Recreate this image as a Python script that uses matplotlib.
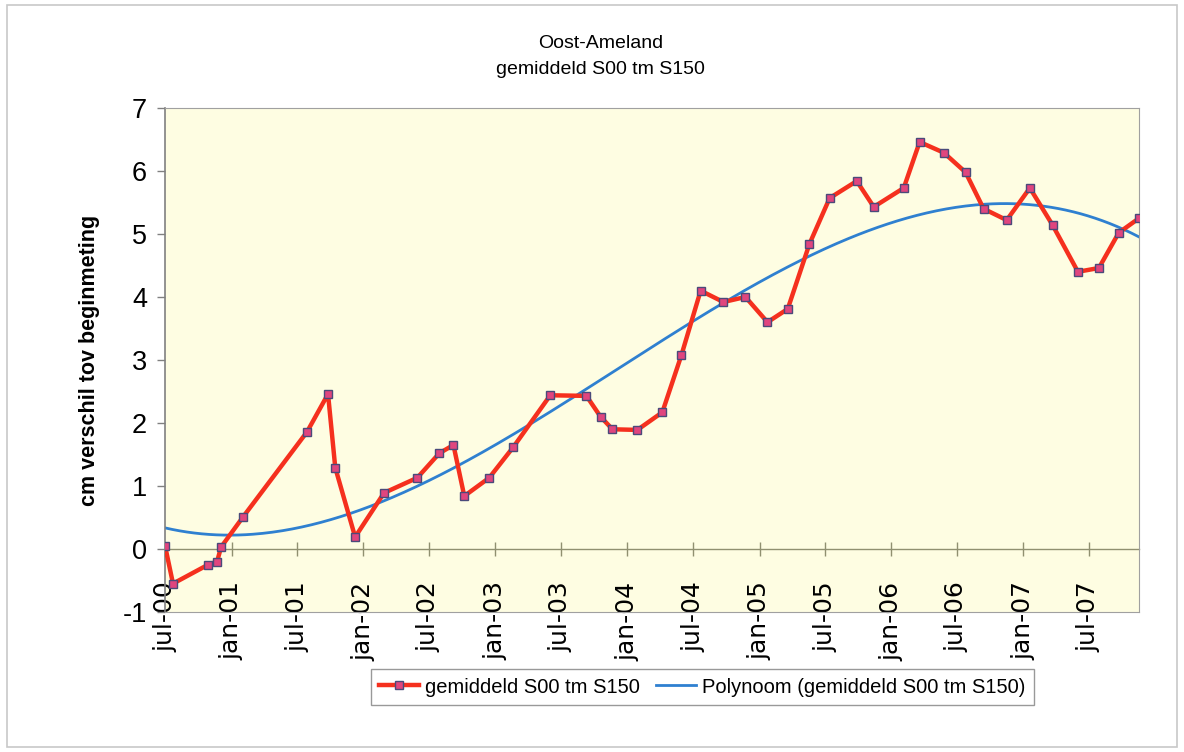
import matplotlib
matplotlib.use("Agg")
import matplotlib.pyplot as plt
import matplotlib.dates as mdates
from matplotlib.patches import Rectangle
import numpy as np

# meetdatums en gemiddelde hoogteverschillen (cm)
meet_datums = [
    "2000-07-01", "2000-07-23", "2000-10-28", "2000-11-22", "2000-12-03",
    "2001-02-02", "2001-07-29", "2001-09-25", "2001-10-15", "2001-12-09",
    "2002-02-27", "2002-05-30", "2002-07-30", "2002-09-07", "2002-10-07",
    "2002-12-15", "2003-02-20", "2003-06-02", "2003-09-10", "2003-10-19",
    "2003-11-21", "2004-01-29", "2004-04-07", "2004-05-30", "2004-07-22",
    "2004-09-23", "2004-11-23", "2005-01-23", "2005-03-20", "2005-05-19",
    "2005-07-14", "2005-09-27", "2005-11-13", "2006-02-04", "2006-03-20",
    "2006-05-26", "2006-07-25", "2006-09-13", "2006-11-16", "2007-01-19",
    "2007-03-23", "2007-06-01", "2007-07-29", "2007-09-22", "2007-11-17",
]
gemiddeld = [
    0.05, -0.55, -0.25, -0.20, 0.03,
    0.51, 1.86, 2.46, 1.29, 0.19,
    0.89, 1.13, 1.52, 1.65, 0.84,
    1.13, 1.62, 2.44, 2.43, 2.10,
    1.90, 1.89, 2.17, 3.08, 4.10,
    3.92, 4.00, 3.60, 3.81, 4.84,
    5.57, 5.84, 5.43, 5.73, 6.46,
    6.29, 5.98, 5.40, 5.22, 5.73,
    5.14, 4.40, 4.46, 5.02, 5.25,
]

# as-labels (jan / jul van elk jaar)
tick_datums = [
    "2000-07-01", "2001-01-01", "2001-07-01", "2002-01-01", "2002-07-01",
    "2003-01-01", "2003-07-01", "2004-01-01", "2004-07-01", "2005-01-01",
    "2005-07-01", "2006-01-01", "2006-07-01", "2007-01-01", "2007-07-01",
]
tick_labels = [
    "jul-00", "jan-01", "jul-01", "jan-02", "jul-02",
    "jan-03", "jul-03", "jan-04", "jul-04", "jan-05",
    "jul-05", "jan-06", "jul-06", "jan-07", "jul-07",
]

y_ticks = [-1, 0, 1, 2, 3, 4, 5, 6, 7]

plt.rcParams['font.family'] = ['Liberation Sans', 'DejaVu Sans']

x = mdates.datestr2num(meet_datums)
y = np.array(gemiddeld)

# polynoom trendlijn (3e orde), zoals Excel die berekent
x0 = x[0]
coef = np.polyfit(x - x0, y, 3)
x_fit = np.linspace(x[0], x[-1], 400)
y_fit = np.polyval(coef, x_fit - x0)

fig = plt.figure(figsize=(11.84, 7.52), dpi=100)
ax = fig.add_axes([0.1394, 0.1862, 0.8226, 0.6702])
ax.set_facecolor('#FEFDE2')

# rand om het hele diagram
fig.patches.append(Rectangle((0.006, 0.007), 0.988, 0.986, transform=fig.transFigure,
                             fill=False, edgecolor='#C8C8C8', linewidth=1.2))

ax.plot(x, y, '-s', color='#F5301E', linewidth=3.2, markersize=6,
        markerfacecolor='#E0457E', markeredgecolor='#4A4A7A', markeredgewidth=1.0,
        label='gemiddeld S00 tm S150', zorder=3)
ax.plot(x_fit, y_fit, '-', color='#2F80D0', linewidth=2.0,
        label='Polynoom (gemiddeld S00 tm S150)', zorder=2)

ax.set_xlim(x[0], x[-1])
ax.set_ylim(-1, 7)
ax.set_yticks(y_ticks)
ax.set_yticklabels([str(v) for v in y_ticks], fontsize=19.5)

ax.set_xticks(mdates.datestr2num(tick_datums))
ax.set_xticklabels(tick_labels, rotation=90, fontsize=18, family='DejaVu Sans')
ax.tick_params(axis='x', length=0, pad=-22)
ax.tick_params(axis='y', length=6, width=1, color='#808080', pad=7)

for side in ['top', 'right', 'bottom']:
    ax.spines[side].set_color('#A0A0A0')
ax.spines['left'].set_color('#808080')
ax.spines['left'].set_linewidth(1.2)

# x-as kruist bij y = 0
sec = ax.secondary_xaxis(1 / 8)
sec.set_xticks(mdates.datestr2num(tick_datums))
sec.set_xticklabels([''] * len(tick_labels))
sec.tick_params(axis='x', direction='inout', length=10, width=1, color='#909070')
sec.spines['bottom'].set_color('#909070')
sec.spines['bottom'].set_linewidth(1.0)

ax.set_ylabel('cm verschil tov beginmeting', fontsize=15.5, fontweight='bold', labelpad=16)

fig.text(0.507, 0.925, 'Oost-Ameland\ngemiddeld S00 tm S150', ha='center', va='center',
         fontsize=14, linespacing=1.7)

leg = fig.legend(loc='center', bbox_to_anchor=(0.593, 0.0864), ncol=2, fontsize=14.5,
                 frameon=True, fancybox=False, handlelength=2.0, columnspacing=0.8,
                 handletextpad=0.3, borderpad=0.4)
leg.get_frame().set_edgecolor('#808080')
leg.get_frame().set_linewidth(1.0)

fig.savefig('out.png', dpi=100)
